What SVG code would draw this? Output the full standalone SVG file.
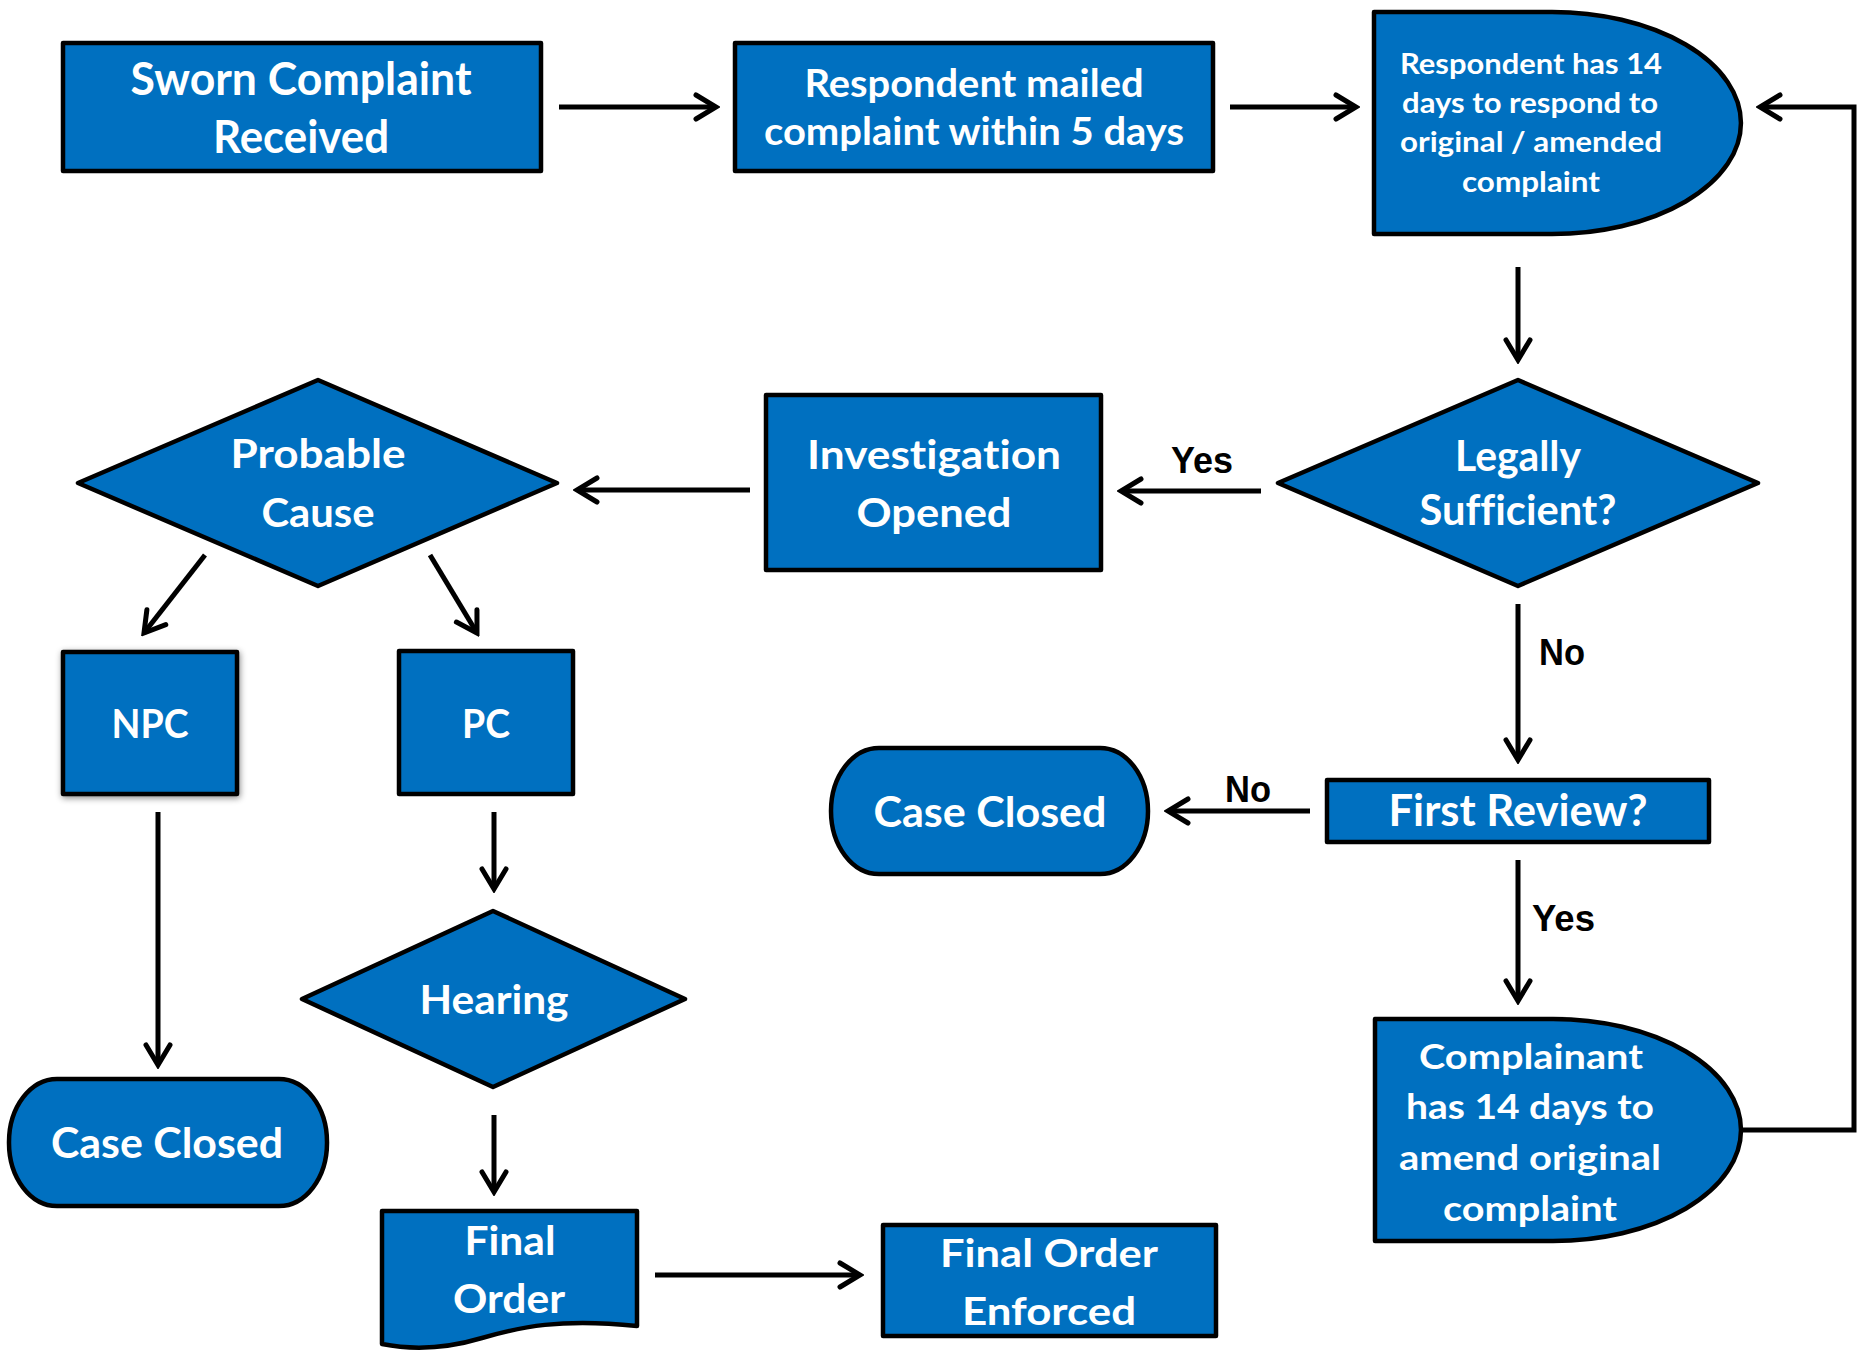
<svg xmlns="http://www.w3.org/2000/svg" width="1860" height="1353" viewBox="0 0 1860 1353">
<style>
.n{fill:#0070C0;stroke:#000;stroke-width:4.5;stroke-linejoin:round}
.t{font-family:Lato,"Open Sans","Liberation Sans",sans-serif;font-weight:700;fill:#fff;text-anchor:middle;font-variant-ligatures:none;font-feature-settings:"liga" 0,"dlig" 0}
.l{font-family:"Liberation Sans",Arial,sans-serif;font-weight:700;fill:#000;font-size:36px}
.c{fill:none;stroke:#000;stroke-width:5}
.a{marker-end:url(#ah)}
</style>
<defs>
<marker id="ah" markerUnits="userSpaceOnUse" viewBox="-26 -16 30 32" markerWidth="30" markerHeight="32" refX="0" refY="0" orient="auto">
<path d="M-20,-12 L0,0 L-20,12" fill="none" stroke="#000" stroke-width="5" stroke-linecap="round" stroke-linejoin="miter"/>
</marker>
<filter id="sh" x="-20%" y="-20%" width="140%" height="140%">
<feDropShadow dx="1" dy="2" stdDeviation="3" flood-color="#000" flood-opacity="0.45"/>
</filter>
</defs>
<rect width="1860" height="1353" fill="#fff"/>

<g id="connectors">
<path class="c a" d="M559,107 H716"/>
<path class="c a" d="M1230,107 H1356"/>
<path class="c a" d="M1518,267 V360"/>
<path class="c a" d="M1261,491 H1121"/>
<path class="c a" d="M750,490 H577"/>
<path class="c a" d="M205,555 L144,633"/>
<path class="c a" d="M430,555 L477,633"/>
<path class="c a" d="M1518,604 V760"/>
<path class="c a" d="M1310,811 H1168"/>
<path class="c a" d="M1518,860 V1001"/>
<path class="c a" d="M1743,1130 H1854 V107 H1760"/>
<path class="c a" d="M158,812 V1065"/>
<path class="c a" d="M494,812 V889"/>
<path class="c a" d="M494,1115 V1192"/>
<path class="c a" d="M655,1275 H860"/>
<text class="l" x="1171" y="473" textLength="62" lengthAdjust="spacingAndGlyphs">Yes</text>
<text class="l" x="1539" y="665" textLength="46" lengthAdjust="spacingAndGlyphs">No</text>
<text class="l" x="1225" y="802" textLength="46" lengthAdjust="spacingAndGlyphs">No</text>
<text class="l" x="1532" y="931" textLength="63" lengthAdjust="spacingAndGlyphs">Yes</text>
</g>

<g id="sworn">
<rect class="n" x="63" y="43" width="478" height="128"/>
<text class="t" font-size="45" x="301" y="95" textLength="341" lengthAdjust="spacingAndGlyphs">Sworn Complaint</text>
<text class="t" font-size="45" x="301" y="153" textLength="176" lengthAdjust="spacingAndGlyphs">Received</text>
</g>

<g id="mailed">
<rect class="n" x="735" y="43" width="478" height="128"/>
<text class="t" font-size="39" x="974" y="97" textLength="339" lengthAdjust="spacingAndGlyphs">Respondent mailed</text>
<text class="t" font-size="39" x="974" y="145" textLength="420" lengthAdjust="spacingAndGlyphs">complaint within 5 days</text>
</g>

<g id="respond14">
<path class="n" d="M1374,12 H1552 A189,111 0 0 1 1552,234 H1374 Z"/>
<text class="t" font-size="29" x="1531" y="74" textLength="262" lengthAdjust="spacingAndGlyphs">Respondent has 14</text>
<text class="t" font-size="29" x="1530" y="113" textLength="256" lengthAdjust="spacingAndGlyphs">days to respond to</text>
<text class="t" font-size="29" x="1531" y="152" textLength="262" lengthAdjust="spacingAndGlyphs">original / amended</text>
<text class="t" font-size="29" x="1531" y="192" textLength="138" lengthAdjust="spacingAndGlyphs">complaint</text>
</g>

<g id="legally">
<polygon class="n" points="1278,483 1518,380 1758,483 1518,586"/>
<text class="t" font-size="42" x="1518" y="471" textLength="126" lengthAdjust="spacingAndGlyphs">Legally</text>
<text class="t" font-size="42" x="1518" y="525" textLength="197" lengthAdjust="spacingAndGlyphs">Sufficient?</text>
</g>

<g id="investigation">
<rect class="n" x="766" y="395" width="335" height="175"/>
<text class="t" font-size="41" x="934" y="469" textLength="254" lengthAdjust="spacingAndGlyphs">Investigation</text>
<text class="t" font-size="41" x="934" y="527" textLength="155" lengthAdjust="spacingAndGlyphs">Opened</text>
</g>

<g id="probable">
<polygon class="n" points="78,483 318,380 557,483 318,586"/>
<text class="t" font-size="40" x="318" y="468" textLength="175" lengthAdjust="spacingAndGlyphs">Probable</text>
<text class="t" font-size="40" x="318" y="527" textLength="113" lengthAdjust="spacingAndGlyphs">Cause</text>
</g>

<g id="npc">
<rect class="n" x="63" y="652" width="174" height="142" filter="url(#sh)"/>
<text class="t" font-size="41" x="150" y="738" textLength="77" lengthAdjust="spacingAndGlyphs">NPC</text>
</g>

<g id="pc">
<rect class="n" x="399" y="651" width="174" height="143"/>
<text class="t" font-size="41" x="486" y="738" textLength="48" lengthAdjust="spacingAndGlyphs">PC</text>
</g>

<g id="hearing">
<polygon class="n" points="302,999 493,911 685,999 493,1087"/>
<text class="t" font-size="41" x="494" y="1014" textLength="149" lengthAdjust="spacingAndGlyphs">Hearing</text>
</g>

<g id="closed1">
<rect class="n" x="9" y="1079" width="318" height="127" rx="48" ry="63"/>
<text class="t" font-size="42" x="167" y="1158" textLength="232" lengthAdjust="spacingAndGlyphs">Case Closed</text>
</g>

<g id="closed2">
<rect class="n" x="831" y="748" width="317" height="126" rx="48" ry="63"/>
<text class="t" font-size="42" x="990" y="827" textLength="233" lengthAdjust="spacingAndGlyphs">Case Closed</text>
</g>

<g id="firstreview">
<rect class="n" x="1327" y="780" width="382" height="62"/>
<text class="t" font-size="43" x="1518" y="826" textLength="259" lengthAdjust="spacingAndGlyphs">First Review?</text>
</g>

<g id="complainant">
<path class="n" d="M1375,1019 H1553 A188,111 0 0 1 1553,1241 H1375 Z"/>
<text class="t" font-size="35" x="1531" y="1069" textLength="224" lengthAdjust="spacingAndGlyphs">Complainant</text>
<text class="t" font-size="35" x="1530" y="1119" textLength="248" lengthAdjust="spacingAndGlyphs">has 14 days to</text>
<text class="t" font-size="35" x="1530" y="1170" textLength="262" lengthAdjust="spacingAndGlyphs">amend original</text>
<text class="t" font-size="35" x="1530" y="1221" textLength="174" lengthAdjust="spacingAndGlyphs">complaint</text>
</g>

<g id="finalorder">
<path class="n" d="M382,1211 H637 V1326 C560,1318 520,1327 482,1338 C445,1349 412,1350 382,1344 Z"/>
<text class="t" font-size="40" x="510" y="1255" textLength="91" lengthAdjust="spacingAndGlyphs">Final</text>
<text class="t" font-size="40" x="509" y="1313" textLength="112" lengthAdjust="spacingAndGlyphs">Order</text>
</g>

<g id="enforced">
<rect class="n" x="883" y="1225" width="333" height="111"/>
<text class="t" font-size="39" x="1049" y="1267" textLength="218" lengthAdjust="spacingAndGlyphs">Final Order</text>
<text class="t" font-size="39" x="1049" y="1325" textLength="174" lengthAdjust="spacingAndGlyphs">Enforced</text>
</g>
</svg>
